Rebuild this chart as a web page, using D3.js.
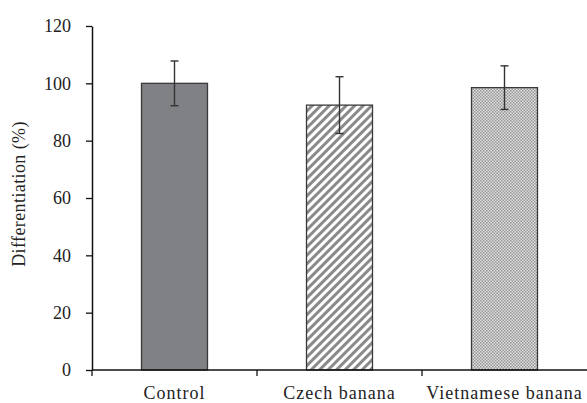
<!DOCTYPE html>
<html>
<head>
<meta charset="utf-8">
<script src="https://cdn.jsdelivr.net/npm/d3@7"></script>
<style>
  body { margin: 0; background: #fff; }
  svg { display: block; }
</style>
</head>
<body>
<script>
const width = 587;
const height = 403;

// data
const categories = ["Control", "Czech banana", "Vietnamese banana"];
const means = [100, 92.4, 98.5];
const errors = [7.8, 9.9, 7.6];
const yTicks = [0, 20, 40, 60, 80, 100, 120];

const svg = d3.select("body").append("svg")
  .attr("width", width)
  .attr("height", height)
  .style("font-family", "'Liberation Serif', serif");

// fill patterns
const defs = svg.append("defs");
const stripes = defs.append("pattern")
  .attr("id", "stripes")
  .attr("patternUnits", "userSpaceOnUse")
  .attr("width", 6).attr("height", 6)
  .attr("patternTransform", "rotate(45)");
stripes.append("rect").attr("width", 6).attr("height", 6).attr("fill", "#fff");
stripes.append("rect").attr("width", 3).attr("height", 6).attr("fill", "#8a8a8a");

const dots = defs.append("pattern")
  .attr("id", "dots")
  .attr("patternUnits", "userSpaceOnUse")
  .attr("width", 3).attr("height", 3);
dots.append("rect").attr("width", 3).attr("height", 3).attr("fill", "#dcdcdc");
dots.append("rect").attr("width", 1.5).attr("height", 1.5).attr("fill", "#9a9a9a");
dots.append("rect").attr("x", 1.5).attr("y", 1.5).attr("width", 1.5).attr("height", 1.5).attr("fill", "#9a9a9a");

const fills = ["#808184", "url(#stripes)", "url(#dots)"];

const x = d3.scaleBand().domain(categories).range([92, 587]).paddingInner(0.6).paddingOuter(0.3);
const y = d3.scaleLinear().domain([0, 120]).range([370, 26]);

// bars
svg.selectAll("rect.bar")
  .data(categories)
  .enter()
  .append("rect")
  .attr("class", "bar")
  .attr("x", (d) => x(d))
  .attr("y", (d, i) => y(means[i]))
  .attr("width", x.bandwidth())
  .attr("height", (d, i) => y(0) - y(means[i]))
  .attr("fill", (d, i) => fills[i])
  .attr("stroke", "#3a3a3a")
  .attr("stroke-width", 1.3);

// error bars
const err = svg.selectAll("g.err")
  .data(categories)
  .enter()
  .append("g")
  .attr("class", "err")
  .attr("stroke", "#333")
  .attr("stroke-width", 1.4);
const cx = (d) => x(d) + x.bandwidth() / 2;
err.append("line")
  .attr("x1", cx).attr("x2", cx)
  .attr("y1", (d, i) => y(means[i] + errors[i]))
  .attr("y2", (d, i) => y(means[i] - errors[i]));
err.append("line")
  .attr("x1", (d) => cx(d) - 4).attr("x2", (d) => cx(d) + 4)
  .attr("y1", (d, i) => y(means[i] + errors[i]))
  .attr("y2", (d, i) => y(means[i] + errors[i]));
err.append("line")
  .attr("x1", (d) => cx(d) - 4).attr("x2", (d) => cx(d) + 4)
  .attr("y1", (d, i) => y(means[i] - errors[i]))
  .attr("y2", (d, i) => y(means[i] - errors[i]));

// y axis
const yAxis = svg.append("g")
  .attr("transform", "translate(92,0)")
  .call(d3.axisLeft(y).tickValues(yTicks).tickSize(6).tickSizeOuter(0).tickPadding(15));
yAxis.select(".domain").attr("stroke", "#111").attr("stroke-width", 1.5);
yAxis.selectAll(".tick line").attr("stroke", "#111").attr("stroke-width", 1.3);
yAxis.selectAll("text")
  .attr("fill", "#222")
  .style("font-size", "18px")
  .style("font-family", "'Liberation Serif', serif");

// x axis: ticks on band boundaries
const xAxis = svg.append("g").attr("transform", `translate(0,${y(0)})`);
xAxis.append("line")
  .attr("x1", 92).attr("x2", 587)
  .attr("stroke", "#111").attr("stroke-width", 1.5);
const step = x.step();
xAxis.selectAll("line.tk")
  .data(categories)
  .enter()
  .append("line")
  .attr("class", "tk")
  .attr("x1", (d) => cx(d) - step / 2)
  .attr("x2", (d) => cx(d) - step / 2)
  .attr("y1", 0).attr("y2", 6)
  .attr("stroke", "#111").attr("stroke-width", 1.3);
xAxis.selectAll("text")
  .data(categories)
  .enter()
  .append("text")
  .attr("x", cx)
  .attr("y", 29)
  .attr("text-anchor", "middle")
  .attr("fill", "#222")
  .style("font-size", "18px")
  .style("letter-spacing", "1px")
  .text((d) => d);

// y label
svg.append("text")
  .attr("transform", `translate(25,${(y(0) + y(120)) / 2 - 4}) rotate(-90)`)
  .attr("text-anchor", "middle")
  .attr("fill", "#222")
  .style("font-size", "18px")
  .style("letter-spacing", "0.4px")
  .text("Differentiation (%)");
</script>
</body>
</html>
